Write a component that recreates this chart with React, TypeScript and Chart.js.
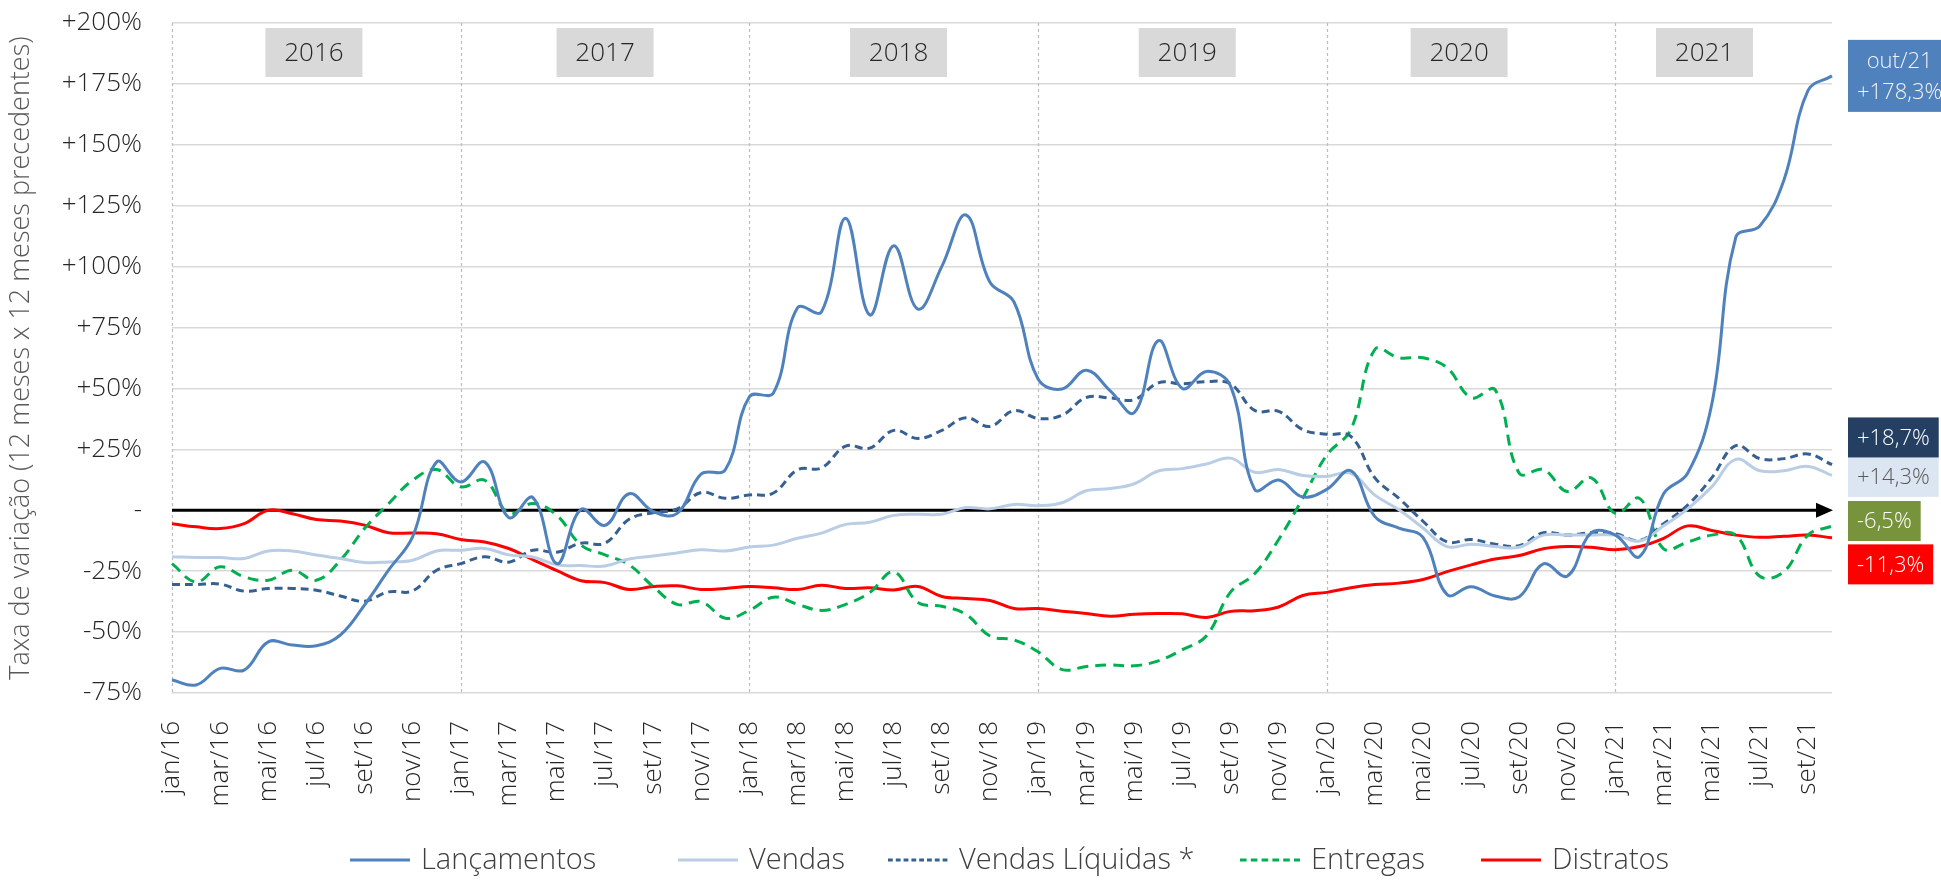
import { useEffect, useRef } from 'react';
import { Chart, registerables } from 'chart.js';

Chart.register(...registerables);

const monthNames = ['jan', 'fev', 'mar', 'abr', 'mai', 'jun', 'jul', 'ago', 'set', 'out', 'nov', 'dez'];
const yearSuffixes = ['16', '17', '18', '19', '20', '21'];
const labels = yearSuffixes.flatMap((y) => monthNames.map((m) => `${m}/${y}`)).slice(0, 70);

const yearNames = ['2016', '2017', '2018', '2019', '2020', '2021'];
// category index where each year tag is centred
const yearTagAt = [5.9, 18, 30.2, 42.2, 53.5, 63.7];

const lancamentos = [
  -69.7, -71.7, -64.9, -65.6, -54, -55.3, -55.6, -51.2, -38.9, -24.6, -10.9, 19.8,
  11.6, 19.8, -3, 5.2, -21.9, 0.3, -6.2, 6.8, -0.5, -1.3, 14.9, 16.6,
  46.6, 48.2, 83.1, 81.5, 119.9, 80.2, 108.6, 82.6, 100.1, 121.2, 93.6, 85.5,
  53.9, 49.8, 57.5, 49, 40.1, 69.6, 50, 57, 51, 8.6, 12.4, 5.5,
  8.6, 16.2, -2.6, -7.3, -11.1, -34.6, -31.4, -35.2, -35.5, -22, -27, -9.2,
  -10.2, -19, 6.8, 15.2, 43.4, 112, 116.7, 135.5, 172.2, 178.3,
];

const vendas = [
  -19.1, -19.4, -19.4, -19.8, -16.7, -16.7, -18.4, -19.8, -21.4, -21.2, -20.5, -16.7,
  -16.4, -15.7, -18.3, -19.2, -22.4, -22.7, -22.9, -20, -18.8, -17.5, -16.2, -16.7,
  -15.1, -14.3, -11.5, -9.4, -5.8, -4.9, -2.1, -1.6, -1.6, 1.1, 0.6, 2.4,
  1.9, 3.1, 8, 8.9, 10.9, 16.1, 17.1, 19, 21.4, 15.6, 16.7, 14.3,
  13.9, 15.2, 6.2, 0.2, -7.3, -14.9, -13.9, -14.9, -15.2, -10.2, -10.2, -10.2,
  -10.2, -12.6, -6.4, 0.6, 9.6, 20.9, 16.2, 16.2, 18, 14.3,
];

const vendasLiquidas = [
  -30.5, -30.5, -30.3, -33.2, -32.1, -32.1, -32.8, -35.2, -37.3, -33.5, -33.1, -24.6,
  -21.9, -19.1, -21.3, -16.4, -17.2, -13.5, -13.5, -3.7, -1, 0.6, 7.3, 4.9,
  6.3, 7.1, 16.6, 17.4, 26.3, 25.5, 32.8, 29.5, 32.8, 38, 34.4, 40.9,
  37.7, 39, 46.3, 46.1, 45.4, 52.3, 51.9, 52.8, 51.9, 41, 40.6, 33.1,
  31.2, 30.3, 13.3, 4.9, -4.5, -13, -12, -13.9, -14.5, -9.2, -10.2, -9.2,
  -9.6, -12.4, -5.5, 2.1, 13.3, 26.5, 21.2, 21.2, 23.1, 18.7,
];

const entregas = [
  -21.9, -29.4, -23.2, -27.3, -28.7, -24.6, -28.7, -20.5, -7.5, 2.7, 12.3, 16.7,
  9.6, 12.3, -1.3, 2.8, -2.1, -14.3, -18.3, -22.4, -31.3, -38.6, -37.5, -44.3,
  -41.1, -35.7, -38.6, -41.1, -38.6, -33.8, -25.3, -37.8, -39.4, -42.7, -51.6, -53.2,
  -58.1, -65.4, -64.1, -63.5, -63.8, -61.8, -57.2, -51.5, -33.6, -26.1, -12, 4.9,
  22.7, 33.1, 66, 62.6, 62.6, 58.5, 46.2, 49.4, 15.2, 16.7, 7.7, 13.3,
  -1.3, 4.9, -15.8, -13, -10.2, -10.2, -27.1, -25.2, -10.2, -6.5,
];

const distratos = [
  -5.5, -6.8, -7.5, -5.5, 0, -1.4, -3.8, -4.4, -6.1, -9.2, -9.3, -9.6,
  -12, -13, -15.7, -20.3, -24.8, -28.9, -29.7, -32.5, -31.3, -31, -32.5, -32.1,
  -31.3, -31.8, -32.5, -30.8, -32.1, -31.8, -32.7, -31.3, -35.4, -36.2, -37, -40.3,
  -40.3, -41.4, -42.4, -43.5, -42.7, -42.4, -42.5, -44, -41.5, -41.2, -39.7, -35,
  -33.7, -31.8, -30.5, -29.9, -28.4, -25.2, -22.4, -20, -18.6, -15.8, -14.9, -15.2,
  -16.2, -14.9, -11.5, -6.4, -8.3, -10.2, -11.1, -10.7, -10.2, -11.3,
];

const seriesNames = ['Lançamentos', 'Vendas', 'Vendas Líquidas *', 'Entregas', 'Distratos'];
const seriesValues = [lancamentos, vendas, vendasLiquidas, entregas, distratos];
const seriesColors = ['#4f81bd', '#b9cde5', '#376092', '#00b050', '#ff0000'];
const seriesDash: number[][] = [[], [], [8, 5], [11, 7], []];

// end-of-series value tags (value level at which each tag is centred), per series
const tagAnchor = [178.3, 13.7, 29.9, -4.4, -22.2];
const tagFill = ['#4f81bd', '#dce6f2', '#253f62', '#77933c', '#ff0000'];
const tagText = ['#f2f2f2', '#595959', '#ffffff', '#ffffff', '#ffffff'];

const FONT = "'Open Sans', 'Noto Sans', sans-serif";

// legend sample start x for each item (canvas px)
const LEGEND_X = [350, 678, 888, 1240, 1481];

const fmtPct = (v: number) => {
  const s = Math.abs(v).toFixed(1).replace('.', ',');
  return (v > 0 ? '+' : v < 0 ? '-' : '') + s + '%';
};

const overlayPlugin = {
  id: 'overlay',
  beforeDatasetsDraw(chart: any) {
    const { ctx, chartArea, scales } = chart;
    const x = scales.x;
    const y = scales.y;
    ctx.save();
    // year separators
    ctx.strokeStyle = '#bdbdbd';
    ctx.lineWidth = 1.2;
    ctx.setLineDash([3, 3]);
    labels.forEach((l, i) => {
      if (l.startsWith('jan')) {
        const px = Math.round(x.getPixelForValue(i)) + 0.5;
        ctx.beginPath();
        ctx.moveTo(px, chartArea.top);
        ctx.lineTo(px, chartArea.bottom);
        ctx.stroke();
      }
    });
    ctx.setLineDash([]);
    // year tags
    ctx.font = `300 26px ${FONT}`;
    ctx.textAlign = 'center';
    ctx.textBaseline = 'middle';
    yearNames.forEach((name, i) => {
      const cx = x.getPixelForValue(yearTagAt[i]);
      const w = 97;
      const h = 49;
      const top = chartArea.top + 5;
      ctx.fillStyle = '#d9d9d9';
      ctx.fillRect(cx - w / 2, top, w, h);
      ctx.fillStyle = '#262626';
      ctx.fillText(name, cx, top + h / 2 + 1);
    });
    // zero line with arrow
    const y0 = y.getPixelForValue(0);
    ctx.strokeStyle = '#000000';
    ctx.lineWidth = 3;
    ctx.beginPath();
    ctx.moveTo(chartArea.left, y0);
    ctx.lineTo(chartArea.right - 12, y0);
    ctx.stroke();
    ctx.fillStyle = '#000000';
    ctx.beginPath();
    ctx.moveTo(chartArea.right + 1, y0);
    ctx.lineTo(chartArea.right - 16, y0 - 7.5);
    ctx.lineTo(chartArea.right - 16, y0 + 7.5);
    ctx.closePath();
    ctx.fill();
    ctx.restore();
  },
  afterDraw(chart: any) {
    const { ctx, chartArea, scales } = chart;
    const y = scales.y;
    ctx.save();
    // end tags
    ctx.font = `300 22px ${FONT}`;
    ctx.textBaseline = 'middle';
    ctx.textAlign = 'center';
    seriesValues.forEach((vals, si) => {
      const last = vals[vals.length - 1];
      const cy = y.getPixelForValue(tagAnchor[si]);
      const left = chartArea.right + 16;
      const lines = si === 0 ? [labels[labels.length - 1], fmtPct(last)] : [fmtPct(last)];
      const tw = Math.max(...lines.map((t) => ctx.measureText(t).width));
      const w = tw + 18;
      const lh = 31;
      const h = si === 0 ? 72 : 40;
      ctx.fillStyle = tagFill[si];
      ctx.fillRect(left, cy - h / 2, w, h);
      ctx.fillStyle = tagText[si];
      lines.forEach((t, k) => {
        const ty = cy - ((lines.length - 1) * lh) / 2 + k * lh + 1;
        ctx.fillText(t, left + w / 2, ty);
      });
    });
    // legend
    ctx.font = `300 29px ${FONT}`;
    ctx.textAlign = 'left';
    const lineLen = 60;
    const gapText = 11;
    const ly = 860;
    seriesNames.forEach((n, i) => {
      const cx = LEGEND_X[i];
      ctx.strokeStyle = seriesColors[i];
      ctx.lineWidth = 3;
      ctx.setLineDash(seriesDash[i].length ? seriesDash[i].map((d) => d * 0.6) : []);
      ctx.beginPath();
      ctx.moveTo(cx, ly);
      ctx.lineTo(cx + lineLen, ly);
      ctx.stroke();
      ctx.setLineDash([]);
      ctx.fillStyle = '#404040';
      ctx.fillText(n, cx + lineLen + gapText, ly + 1);
    });
    ctx.restore();
  },
};

export default function App() {
  const ref = useRef<HTMLCanvasElement | null>(null);

  useEffect(() => {
    const canvas = ref.current;
    if (!canvas) return;
    const chart = new Chart(canvas, {
      type: 'line',
      data: {
        labels,
        datasets: seriesNames.map((name, i) => ({
          label: name,
          data: seriesValues[i],
          borderColor: seriesColors[i],
          backgroundColor: seriesColors[i],
          borderWidth: 3,
          borderDash: seriesDash[i],
          pointRadius: 0,
          tension: 0.4,
          fill: false,
        })),
      },
      options: {
        animation: false,
        responsive: false,
        maintainAspectRatio: false,
        layout: { padding: { top: 23, right: 109, bottom: 58, left: 0 } },
        plugins: {
          legend: { display: false },
          tooltip: { enabled: false },
        },
        scales: {
          x: {
            grid: { display: false },
            border: { display: false },
            ticks: {
              autoSkip: false,
              minRotation: 90,
              maxRotation: 90,
              padding: 20,
              color: '#262626',
              font: { family: FONT, size: 26, weight: '300' as any },
              callback: (_v: any, i: number) => (i % 2 === 0 ? labels[i] : ''),
            },
            afterFit: (s: any) => {
              s.height = 130;
            },
          },
          y: {
            min: -75,
            max: 200,
            grid: {
              color: (c: any) => (c.tick && c.tick.value === 0 ? 'rgba(0,0,0,0)' : '#d9d9d9'),
              lineWidth: 1.5,
              drawTicks: true,
              tickLength: 25,
              tickColor: 'rgba(0,0,0,0)',
            },
            border: { display: false },
            ticks: {
              stepSize: 25,
              padding: 5,
              color: '#262626',
              font: { family: FONT, size: 26, weight: '300' as any },
              callback: (v: any) => {
                const n = Number(v);
                if (n === 0) return '-';
                return (n > 0 ? '+' : '') + n + '%';
              },
            },
            title: {
              display: true,
              text: 'Taxa de variação (12 meses x 12 meses precedentes)',
              color: '#595959',
              font: { family: FONT, size: 27, weight: '300' as any },
              padding: { top: 5, bottom: 0 },
            },
            afterFit: (s: any) => {
              s.width = 172;
            },
          },
        },
      },
      plugins: [overlayPlugin],
    });
    return () => chart.destroy();
  }, []);

  return (
    <div style={{ position: 'absolute', left: 0, top: 0, width: 1941, height: 881, background: '#ffffff' }}>
      <canvas ref={ref} width={1941} height={881} style={{ width: 1941, height: 881, display: 'block' }} />
    </div>
  );
}
